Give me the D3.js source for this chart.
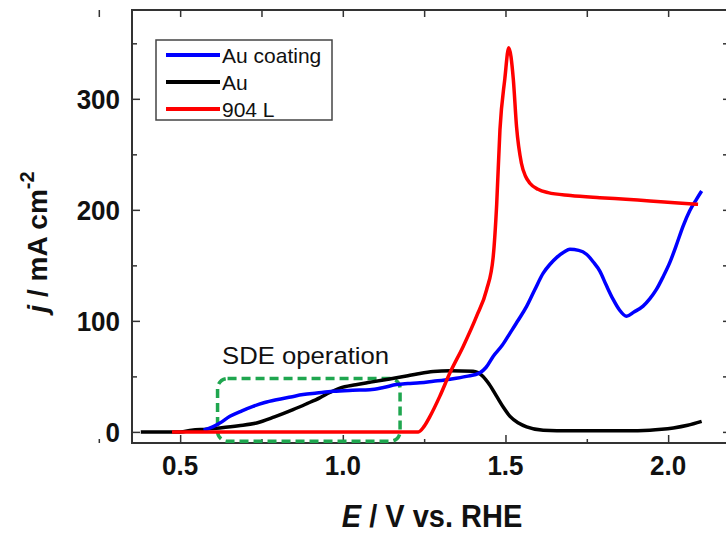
<!DOCTYPE html>
<head>
<meta charset="utf-8">
<title>LSV Au coating vs Au vs 904 L</title>
<script type="text/javascript" src="https://d3js.org/d3.v7.min.js"></script>
<style>
  body { margin: 0; background: #fff; }
  svg text { font-family: "Liberation Sans", Arial, sans-serif; fill: #111; }
  .tick line { stroke: #333; stroke-width: 1.5; }
</style>
</head>
<body>
<div id="container"></div>
<script>

//------------------------1. DATA------------------------//
// E (V vs. RHE), j (mA cm-2)
const auCoating = [
  [0.572,1.5],[0.60,4.5],[0.622,8],[0.653,14],[0.69,19],[0.724,23],[0.76,26.5],[0.796,29],
  [0.84,31.5],[0.878,33.6],[0.92,35],[0.97,36.6],[1.03,37.5],[1.083,38],[1.125,40],[1.165,42.6],
  [1.2,43.5],[1.237,44.2],[1.278,45.6],[1.33,47.5],[1.38,50],[1.421,53.2],[1.44,58],[1.462,68],
  [1.49,78],[1.514,89],[1.54,101],[1.565,113],[1.59,128],[1.616,143],[1.637,151],[1.657,157],
  [1.68,162],[1.698,164.4],[1.725,163.5],[1.749,160],[1.77,153],[1.79,144.8],[1.81,132],
  [1.831,119.3],[1.85,110],[1.872,104.2],[1.895,108],[1.923,113.3],[1.944,120],[1.964,128.3],
  [1.985,140],[2.005,152.4],[2.025,168],[2.046,185.4],[2.066,199],[2.087,209.5],[2.103,217]
];
const au = [
  [0.379,0],[0.50,0],[0.535,1.5],[0.58,2.5],[0.622,3.6],[0.68,5.5],[0.735,8],[0.79,13.5],
  [0.847,20],[0.89,25.5],[0.929,30.7],[0.96,35.5],[0.991,39.5],[1.04,42.5],[1.083,44.7],
  [1.125,46.8],[1.165,48.7],[1.2,50.5],[1.237,52.6],[1.278,54.3],[1.33,55],[1.40,54.6],
  [1.431,50],[1.45,43],[1.473,32],[1.494,22],[1.514,14],[1.54,8],[1.565,4.5],[1.616,1.5],
  [1.70,1],[1.79,1],[1.87,1],[1.944,1.5],[1.98,2.3],[2.016,3.6],[2.06,6],[2.103,9.5]
];
const ss904L = [
  [0.475,0],[1.232,0],[1.25,5],[1.268,14],[1.298,32],[1.329,53],[1.37,77],[1.411,104],
  [1.442,128],[1.462,157],[1.473,205],[1.483,272],[1.498,318],[1.510,346],[1.524,318],
  [1.534,275],[1.549,242],[1.562,230],[1.575,224],[1.6,218.5],[1.631,215.5],[1.7,213],
  [1.79,211],[1.87,209.5],[1.944,208],[2.02,206.5],[2.092,205]
];

const seriesNames = ["Au coating", "Au", "904 L"];
const seriesColors = ["#0000ff", "#000000", "#ff0000"];
const xTicks = [0.5, 1.0, 1.5, 2.0];
const xMinor = [0.25, 0.75, 1.25, 1.75];
const yTicks = [0, 100, 200, 300];
const yMinor = [50, 150, 250, 350];
// SDE operation window (E range, j range)
const sdeE = [0.615, 1.176];
const sdeJ = [-8.5, 48];

//------------------------2. SVG------------------------//
const width = 726;
const height = 534;
const plot = {left: 132, right: 728, top: 10, bottom: 443};

const svg = d3.select("div#container").append("svg")
    .attr("width", width)
    .attr("height", height);

svg.append("rect").attr("width", width).attr("height", height).attr("fill", "#fff");

const xScale = d3.scaleLinear().domain([0.352, 2.184]).range([plot.left, plot.right]);
const yScale = d3.scaleLinear().domain([-10, 380]).range([plot.bottom, plot.top]);

//------------------------AXES (inward ticks)------------------------//
function addAxis(axis, tf) {
  const g = svg.append("g").attr("transform", tf).call(axis);
  g.select(".domain").remove();
  return g;
}
addAxis(d3.axisBottom(xScale).tickValues(xTicks).tickSize(-8).tickFormat(""), `translate(0,${plot.bottom})`);
addAxis(d3.axisBottom(xScale).tickValues(xMinor).tickSize(-4).tickFormat(""), `translate(0,${plot.bottom})`);
addAxis(d3.axisTop(xScale).tickValues(xTicks.concat(xMinor)).tickSize(-7).tickFormat(""), `translate(0,${plot.top})`);
addAxis(d3.axisLeft(yScale).tickValues(yTicks).tickSize(-8).tickFormat(""), `translate(${plot.left},0)`);
addAxis(d3.axisLeft(yScale).tickValues(yMinor).tickSize(-5).tickFormat(""), `translate(${plot.left},0)`);
addAxis(d3.axisRight(yScale).tickValues(yTicks.concat(yMinor)).tickSize(-5).tickFormat(""), `translate(${plot.right},0)`);

svg.append("rect")
    .attr("x", plot.left).attr("y", plot.top)
    .attr("width", plot.right - plot.left).attr("height", plot.bottom - plot.top)
    .attr("fill", "none").attr("stroke", "#333").attr("stroke-width", 2);

// tick labels
svg.selectAll(".xlab").data(xTicks).enter().append("text")
    .attr("class", "xlab")
    .attr("transform", d => `translate(${xScale(d)},475) scale(1,1.08)`)
    .attr("text-anchor", "middle")
    .style("font-size", "26px").style("font-weight", "bold")
    .text(d3.format(".1f"));

svg.selectAll(".ylab").data(yTicks).enter().append("text")
    .attr("class", "ylab")
    .attr("transform", d => `translate(120,${yScale(d) + 10}) scale(1,1.08)`)
    .attr("text-anchor", "end")
    .style("font-size", "26px").style("font-weight", "bold")
    .text(d => d);

// axis titles
const xt = svg.append("text")
    .attr("transform", "translate(432,527) scale(1,1.06)")
    .attr("text-anchor", "middle")
    .style("font-size", "29px").style("font-weight", "bold");
xt.append("tspan").style("font-style", "italic").text("E");
xt.append("tspan").text(" / V vs. RHE");

const yt = svg.append("text")
    .attr("transform", "translate(47,242) rotate(-90)")
    .attr("text-anchor", "middle")
    .style("font-size", "28px").style("font-weight", "bold");
yt.append("tspan").style("font-style", "italic").text("j");
yt.append("tspan").text(" / mA cm");
yt.append("tspan").attr("dy", -13).style("font-size", "20px").text("-2");

//------------------------SDE BOX------------------------//
svg.append("rect")
    .attr("x", xScale(sdeE[0])).attr("y", yScale(sdeJ[1]))
    .attr("width", xScale(sdeE[1]) - xScale(sdeE[0]))
    .attr("height", yScale(sdeJ[0]) - yScale(sdeJ[1]))
    .attr("rx", 10).attr("ry", 10)
    .attr("fill", "none").attr("stroke", "#1fa64f")
    .attr("stroke-width", 3.5).attr("stroke-dasharray", "9,5");

svg.append("text")
    .attr("transform", `translate(${xScale(0.629)},${yScale(61)}) scale(1.07,1)`)
    .style("font-size", "24px")
    .text("SDE operation");

//------------------------LINES------------------------//
const line = d3.line()
    .x(d => xScale(d[0]))
    .y(d => yScale(d[1]))
    .curve(d3.curveMonotoneX);

const drawOrder = [[au, 1], [auCoating, 0], [ss904L, 2]];
drawOrder.forEach(([data, i]) => {
  svg.append("path")
      .datum(data)
      .attr("d", line)
      .attr("fill", "none")
      .attr("stroke", seriesColors[i])
      .attr("stroke-width", 3.5)
      .attr("stroke-linejoin", "round");
});

//------------------------LEGEND------------------------//
const legend = svg.append("g").attr("transform", "translate(156,40)");
legend.append("rect")
    .attr("width", 176).attr("height", 80)
    .attr("fill", "#fff").attr("stroke", "#444").attr("stroke-width", 1.5);

seriesNames.forEach((name, i) => {
  const yy = 15 + i * 27;
  legend.append("line")
      .attr("x1", 10).attr("x2", 64).attr("y1", yy).attr("y2", yy)
      .attr("stroke", seriesColors[i]).attr("stroke-width", 4);
  legend.append("text")
      .attr("x", 66).attr("y", yy + 8)
      .style("font-size", "21px")
      .text(name);
});

</script>
</body>
